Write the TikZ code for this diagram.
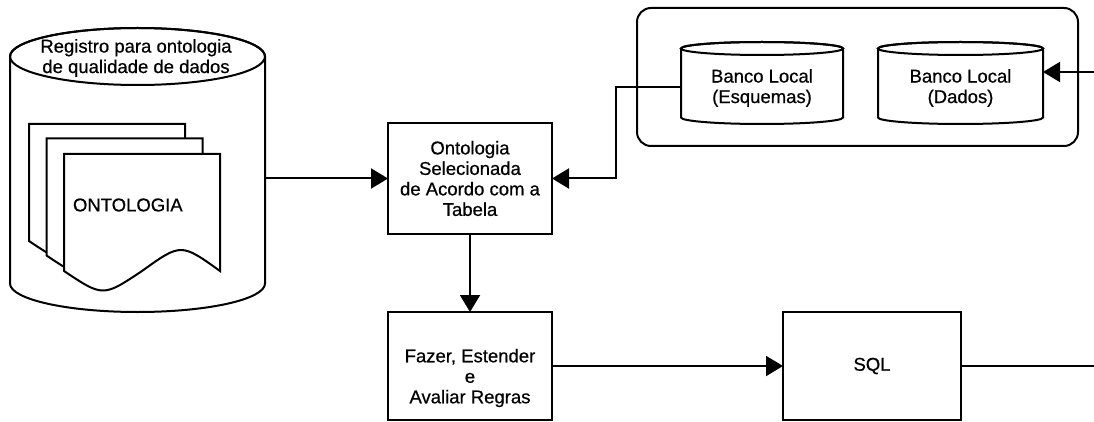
\documentclass[tikz,border=0pt]{standalone}
\usepackage{fontspec}
\setmainfont{Liberation Sans}
\newfontfamily\labelfont[FakeBold=0.6]{Liberation Sans}
\usetikzlibrary{arrows.meta,calc}

\tikzset{
  every node/.style={font=\labelfont\fontsize{18.5pt}{20.5pt}\selectfont, inner sep=0pt, outer sep=0pt},
  box/.style={draw, line width=2pt, fill=white, align=center},
  lbl/.style={align=center},
  ghost/.style={draw=none, align=center},
  line/.style={line width=2pt},
  arr/.style={line width=2pt, -{Triangle[length=17pt,width=20pt]}},
  shp/.style={draw, line width=2pt, fill=white, line join=miter},
}

% a stacked page with a wavy lower edge; #1,#2 = left and top (y downwards)
\newcommand\docpage[2]{%
  \draw[shp] ({#1},{-#2}) -- ({#1+156},{-#2}) -- ({#1+156},{-#2-117})
    .. controls ({#1+117},{-#2-117+28}) .. ({#1+78},{-#2-117})
    .. controls ({#1+39},{-#2-117-26}) .. ({#1},{-#2-117}) -- cycle;}

% upright cylinder: #1 left, #2 right, #3 top ellipse centre, #4 bottom ellipse centre, #5 y radius
\newcommand\drum[5]{%
  \draw[shp] ({#1},{-#3}) -- ({#1},{-#4})
    arc[start angle=180, end angle=360, x radius={(#2-#1)/2}, y radius=#5]
    -- ({#2},{-#3})
    arc[start angle=0, end angle=180, x radius={(#2-#1)/2}, y radius=#5] -- cycle;
  \draw[line] ({(#1+#2)/2},{-#3}) ellipse [x radius={(#2-#1)/2}, y radius=#5];}

\begin{document}
\begin{tikzpicture}[x=1pt,y=1pt]
\useasboundingbox (0,0) rectangle (1094,-422);

% ontology registry store
\drum{10}{265}{56.5}{283.5}{28.5}
\node[ghost, minimum width=255pt, minimum height=284pt] (reg) at (137.5,-170) {};
\node[lbl] (regtitle) at (136,-58) {Registro para ontologia\\de qualidade de dados};

% stack of ontology documents
\docpage{29}{124}
\docpage{46.5}{138.5}
\docpage{64}{154}
\node[anchor=west] (ontdoc) at (73,-205) {ONTOLOGIA};

% processing steps
\node[box, minimum width=164pt, minimum height=111pt] (onto) at (470,-178.5)
  {Ontologia\\Selecionada\\de Acordo com a\\Tabela};
\node[box, minimum width=164pt, minimum height=108pt] (fazer) at (470,-366) {};
\node[lbl] (fazertxt) at (470,-378) {Fazer, Estender\\e\\Avaliar Regras};
\node[box, minimum width=178pt, minimum height=108pt] (sql) at (872,-366) {SQL};

% local databases
\node[draw, line width=2pt, rounded corners=14pt, minimum width=441pt, minimum height=138pt] (cont) at (857.5,-77) {};
\drum{681}{843}{48.5}{117.5}{6.5}
\node[ghost, minimum width=162pt, minimum height=69pt] (esq) at (762,-88) {Banco Local\\(Esquemas)};
\drum{878}{1043}{48.5}{117.5}{6.5}
\node[ghost, minimum width=165pt, minimum height=69pt] (dad) at (960.5,-88) {Banco Local\\(Dados)};

% connectors
\coordinate (inR) at (1094,-72);
\coordinate (outR) at (1094,-366);
\draw[arr] (reg.east |- onto.west) -- (onto.west);
\draw[arr] ($(esq.west)+(0,1)$) -| ($(onto.east)+(64,0)$) -- (onto.east);
\draw[arr] (onto.south) -- (fazer.north);
\draw[arr] (fazer.east) -- (sql.west);
\draw[line] (sql.east) -- (outR);
\draw[arr] (inR) -- (dad.east |- inR);
\end{tikzpicture}
\end{document}
